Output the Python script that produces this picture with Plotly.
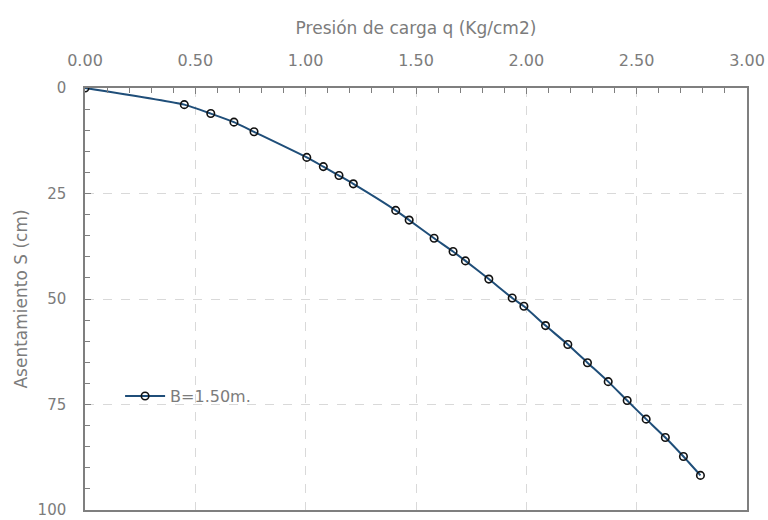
import plotly.graph_objects as go

q_vals = [0.00, 0.45, 0.57, 0.675, 0.766, 1.005, 1.08, 1.151, 1.216, 1.408, 1.469,
          1.582, 1.668, 1.724, 1.83, 1.936, 1.989, 2.087, 2.188, 2.277, 2.371,
          2.457, 2.543, 2.63, 2.712, 2.789]
s_vals = [0.0, 3.94, 6.06, 8.09, 10.38, 16.44, 18.63, 20.75, 22.71, 29.0, 31.3,
          35.6, 38.75, 40.97, 45.28, 49.76, 51.72, 56.3, 60.78, 65.09, 69.58,
          74.06, 78.47, 82.83, 87.33, 91.8]
series_name = "B=1.50m."
x_title = "Presión de carga q (Kg/cm2)"
y_title = "Asentamiento S (cm)"

FONT = "DejaVu Sans"
GRAY = "#7c7c7c"
TF = dict(family=FONT, size=16, color=GRAY)
TFY = dict(family=FONT, size=15, color=GRAY)
TT = dict(family=FONT, size=17, color=GRAY)

fig = go.Figure()
fig.add_trace(go.Scatter(
    x=q_vals, y=s_vals, name=series_name, mode="lines+markers",
    line=dict(color="#1F4E79", width=2, shape="spline", smoothing=0.5),
    marker=dict(symbol="circle-open", size=7.5, color="#111111",
                line=dict(color="#111111", width=1.6)),
))

fig.update_layout(
    width=768, height=520,
    margin=dict(l=85, r=21, t=88, b=10),
    paper_bgcolor="white", plot_bgcolor="white",
    font=TF,
    showlegend=True,
    legend=dict(x=0.053, y=0.27, xanchor="left", yanchor="middle",
                itemwidth=40, bgcolor="rgba(0,0,0,0)", font=TF),
)

fig.update_xaxes(
    side="top", range=[0, 3], dtick=0.5, tickformat=".2f",
    automargin=False, ticklabeloverflow="allow",
    showline=True, linecolor="#7f7f7f", linewidth=1.5, mirror=True,
    ticks="inside", ticklen=6, tickcolor="#7f7f7f", tickwidth=1.2,
    minor=dict(ticks="inside", dtick=0.1, ticklen=5, tickcolor="#7f7f7f", showgrid=False),
    showgrid=True, gridcolor="#d9d9d9", griddash="dash", gridwidth=1,
    zeroline=False, ticklabelstandoff=14,
    title=dict(text=x_title, font=TT, standoff=12),
    tickfont=TF,
)
fig.update_yaxes(
    range=[100, 0], dtick=25,
    automargin=False, ticklabeloverflow="allow",
    showline=True, linecolor="#7f7f7f", linewidth=1.5, mirror=True,
    ticks="inside", ticklen=6, tickcolor="#7f7f7f", tickwidth=1.2,
    minor=dict(ticks="inside", dtick=5, ticklen=5, tickcolor="#7f7f7f", showgrid=False),
    showgrid=True, gridcolor="#d9d9d9", griddash="dash", gridwidth=1,
    zeroline=False, ticklabelstandoff=14,
    title=dict(text=y_title, font=TT, standoff=6),
    tickfont=TFY,
)

fig.write_html("out.html", config={"displayModeBar": False},
               post_script="document.body.style.margin='0';document.body.style.padding='0';")
